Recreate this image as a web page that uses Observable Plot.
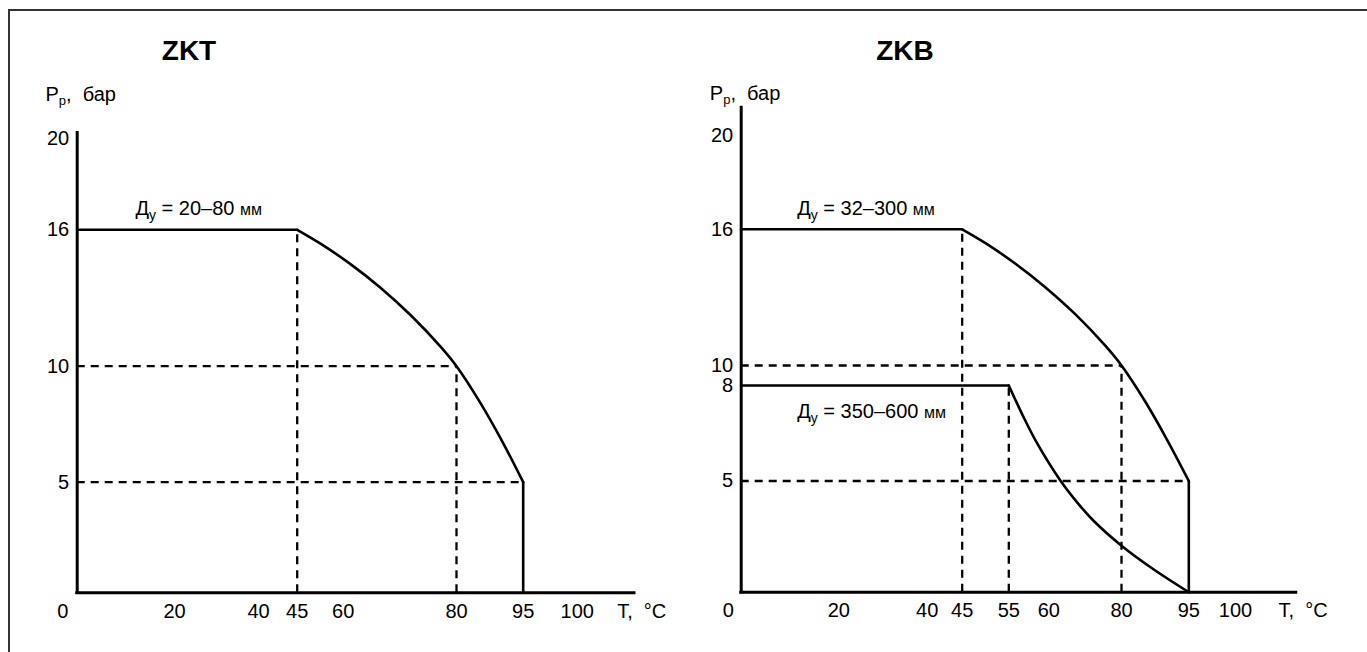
<!DOCTYPE html>
<html><head><meta charset="utf-8">
<script src="https://cdn.jsdelivr.net/npm/d3@7"></script>
<script src="https://cdn.jsdelivr.net/npm/@observablehq/plot@0.6"></script>
<style>
body{margin:0;background:#fff;}
#wrap{position:relative;width:1367px;height:652px;overflow:hidden;background:#fff;}
#frame{position:absolute;left:8px;top:9px;width:1400px;height:700px;border-top:2px solid #333;border-left:2px solid #333;}
#left{position:absolute;left:0;top:0;}
#right{position:absolute;left:680px;top:0;}
svg text{white-space:pre;}
</style></head><body>
<div id="wrap"><div id="frame"></div><div id="left"></div><div id="right"></div></div>
<script>
// ---------- DATA ----------
const titleZKT = "ZKT";
const titleZKB = "ZKB";
const axisTitleY = ["Р", "р", ",\u00a0\u00a0бар"];   // Pр, бар
const axisTitleX = "T,\u00a0\u00a0°C";
const originLabel = "0";

// ZKT: tick labels
const zktTicksT = [20, 40, 45, 60, 80, 95, 100];
const zktTicksP = [5, 10, 16, 20];
// ZKT series Ду = 20–80 мм
const zktCurveT = [45, 52.6, 61.29, 66.58, 71.88, 77.18, 80, 85.4, 90.34, 95];
const zktCurveP = [16, 15.39, 14.49, 13.45, 12.25, 10.86, 10, 8.41, 6.74, 5];
const zktNote = ["Д", "у", "\u00a0=\u00a020–80\u00a0", "мм"];
// ZKT dashed guides
const zktGuideVT = [45, 80];
const zktGuideVP = [16, 10];
const zktGuideHP = [10, 5];
const zktGuideHT = [80, 95];

// ZKB: tick labels
const zkbTicksT = [20, 40, 45, 55, 60, 80, 95, 100];
const zkbTicksP = [5, 8, 10, 16, 20];
// ZKB upper series Ду = 32–300 мм
const zkbUpperT = [45, 50.0, 55.84, 59.59, 67.35, 75.6, 80, 85.35, 90.25, 95];
const zkbUpperP = [16, 15.39, 14.48, 13.44, 12.25, 10.86, 10, 7.48, 6.27, 5];
const zkbUpperNote = ["Д", "у", "\u00a0=\u00a032–300\u00a0", "мм"];
// ZKB lower series Ду = 350–600 мм
const zkbLowerT = [55, 56.8, 58.55, 63.22, 68.36, 72.38, 80, 87.2, 95];
const zkbLowerP = [8, 7.03, 6.18, 5.01, 3.93, 3.20, 2.09, 1.02, 0];
const zkbLowerNote = ["Д", "у", "\u00a0=\u00a0350–600\u00a0", "мм"];
// ZKB dashed guides
const zkbGuideVT = [45, 55, 80];
const zkbGuideVP = [16, 8, 10];
const zkbGuideHP = [10, 5];
const zkbGuideHT = [80, 95];

// ---------- LAYOUT (schematic, piecewise axes) ----------
const FONT = "'Liberation Sans', Arial, Helvetica, sans-serif";

function panel(cfg) {
  const W = cfg.width, H = 652;
  // piecewise schematic mapping, applied as the Plot scale transform
  const tx = d3.scaleLinear().domain(cfg.xDomain).range(cfg.xRange);
  const ty = d3.scaleLinear().domain(cfg.yDomain).range(cfg.yRange);
  const dash = {stroke: "#000", strokeWidth: 2.3, strokeDasharray: "8,6"};
  const solid = {stroke: "#000", strokeWidth: 2.6};
  const vGuides = cfg.vT.map((t, i) => ({t, p: cfg.vP[i]}));
  const hGuides = cfg.hP.map((p, i) => ({p, t: cfg.hT[i]}));
  const marks = [
    Plot.ruleX(vGuides, {x: "t", y1: 0, y2: "p", ...dash}),
    Plot.ruleY(hGuides, {y: "p", x1: 0, x2: "t", ...dash})
  ];
  for (const s of cfg.series) {
    const pts = s.T.map((t, i) => ({t, p: s.P[i]}));
    const first = pts[0], last = pts[pts.length - 1];
    marks.push(Plot.line([{t: 0, p: first.p}, first], {x: "t", y: "p", ...solid}));
    marks.push(Plot.line(pts, {x: "t", y: "p", curve: "catmull-rom", ...solid}));
    if (s.drop) marks.push(Plot.line([last, {t: last.t, p: 0}], {x: "t", y: "p", ...solid}));
    marks.push(Plot.text([s.note.join("")], {x: 0, y: first.p, text: d => d, dx: s.noteDx, dy: s.noteDy,
      textAnchor: "start", lineAnchor: "bottom", fontSize: 20, fill: "#000"}));
  }
  marks.push(
    Plot.ruleY([0], {x1: 0, x2: cfg.xEnd, stroke: "#000", strokeWidth: 3, strokeLinecap: "square"}),
    Plot.ruleX([0], {y1: 0, y2: cfg.yTop, stroke: "#000", strokeWidth: 3, strokeLinecap: "square"}),
    Plot.text(cfg.ticksT, {x: d => d, y: 0, text: d => String(d), dy: 11, lineAnchor: "top", textAnchor: "middle", fontSize: 20, fill: "#000"}),
    Plot.text(cfg.ticksP, {x: 0, y: d => d, text: d => String(d), dx: -8, textAnchor: "end", lineAnchor: "middle", fontSize: 20, fill: "#000"}),
    Plot.text([originLabel], {x: 0, y: 0, text: d => d, dx: cfg.originDx, dy: 11, lineAnchor: "top", textAnchor: "middle", fontSize: 20, fill: "#000"}),
    Plot.text([axisTitleX], {x: 100, y: 0, text: d => d, dx: cfg.tDx, dy: 11, lineAnchor: "top", textAnchor: "start", fontSize: 20, fill: "#000"}),
    Plot.text([axisTitleY.join("")], {frameAnchor: "top-left", text: d => d, dx: cfg.pDx, dy: cfg.pDy, lineAnchor: "bottom", textAnchor: "start", fontSize: 20, fill: "#000"}),
    Plot.text([cfg.title], {frameAnchor: "top-left", text: d => d, dx: cfg.titleDx, dy: 59.5, lineAnchor: "bottom", textAnchor: "middle", fontSize: 28, fontWeight: "bold", fill: "#000"})
  );
  const svg = Plot.plot({
    width: W, height: H,
    marginTop: 0, marginLeft: cfg.marginLeft, marginBottom: cfg.marginBottom, marginRight: 40,
    style: {fontFamily: FONT, fontSize: "20px", color: "#000", background: "transparent", overflow: "visible"},
    x: {type: "linear", domain: [0, W], range: [0, W], transform: tx, axis: null},
    y: {type: "linear", domain: [0, H], range: [0, H], transform: ty, axis: null},
    marks
  });
  richify(svg, [axisTitleY, ...cfg.series.map(s => s.note)]);
  return svg;
}

function richify(svg, specs) {
  d3.select(svg).selectAll("text").each(function() {
    const content = this.textContent;
    const parts = specs.find(p => p.join("") === content);
    if (!parts) return;
    const sel = d3.select(this);
    sel.text(null);
    const isNote = parts.length === 4;
    const subDy = isNote ? 5 : 4;
    sel.append("tspan").text(parts[0]);
    sel.append("tspan").attr("font-size", isNote ? 14 : 13).attr("dy", subDy).text(parts[1]);
    sel.append("tspan").attr("dy", -subDy).text(parts[2]);
    if (parts[3]) sel.append("tspan").attr("font-size", 16).text(parts[3]);
  });
}

document.getElementById("left").appendChild(panel({
  width: 680, marginLeft: 76.7, marginBottom: 59.7, title: titleZKT, titleDx: 111.8,
  xDomain: [0, 20, 40, 45, 60, 80, 95, 100], xRange: [76.7, 174, 258, 296.7, 342.7, 456, 522.7, 576.7],
  yDomain: [0, 5, 10, 16, 20], yRange: [592.3, 481.7, 365.7, 229.3, 138.3],
  xEnd: 105.3, yTop: 20.26, ticksT: zktTicksT, ticksP: zktTicksP,
  vT: zktGuideVT, vP: zktGuideVP, hP: zktGuideHP, hT: zktGuideHT,
  series: [{T: zktCurveT, P: zktCurveP, drop: true, note: zktNote, noteDx: 58.3, noteDy: -15}],
  originDx: -14.4, tDx: 40, pDx: -31.7, pDy: 100
}));

document.getElementById("right").appendChild(panel({
  width: 687, marginLeft: 60.7, marginBottom: 60.3, title: titleZKB, titleDx: 163.8,
  xDomain: [0, 20, 40, 45, 55, 60, 80, 95, 100], xRange: [60.7, 158.3, 246.7, 281.7, 328.3, 368.3, 441, 508.3, 555],
  yDomain: [0, 5, 8, 10, 16, 20], yRange: [591.7, 480.5, 385, 365, 228.8, 135],
  xEnd: 106.5, yTop: 21.18, ticksT: zkbTicksT, ticksP: zkbTicksP,
  vT: zkbGuideVT, vP: zkbGuideVP, hP: zkbGuideHP, hT: zkbGuideHT,
  series: [
    {T: zkbUpperT, P: zkbUpperP, drop: true, note: zkbUpperNote, noteDx: 56, noteDy: -14},
    {T: zkbLowerT, P: zkbLowerP, drop: false, note: zkbLowerNote, noteDx: 56, noteDy: 32}
  ],
  originDx: -13, tDx: 43, pDx: -31.4, pDy: 99
}));
</script>
</body></html>
